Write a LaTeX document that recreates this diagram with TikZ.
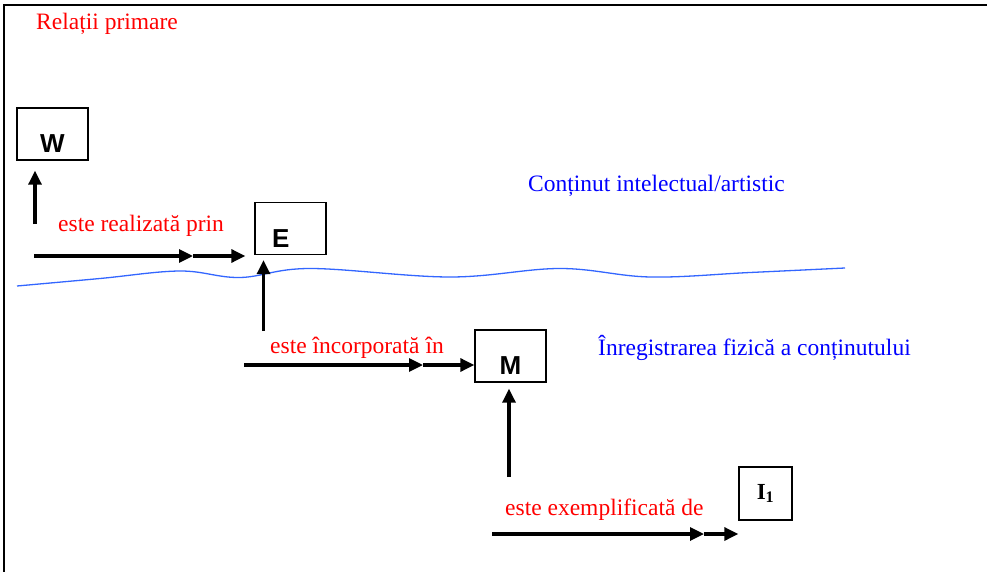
\documentclass[tikz,border=0pt]{standalone}
\usepackage{fontspec}
\setmainfont{Liberation Serif}
\setsansfont{Liberation Sans}
\usepackage{tikz}
\usetikzlibrary{arrows.meta}
\definecolor{waveblue}{RGB}{51,102,255}
\tikzstyle{entity} = [rectangle, draw, line width=1.4pt, inner sep=0pt,
    minimum width=71pt, minimum height=52pt]
\tikzstyle{letter} = [font=\fontsize{26}{30}\sffamily\bfseries,
    text height=37pt, text depth=0pt]
\tikzstyle{line} = [draw, line width=3.2pt, -{Triangle[length=14pt,width=13pt]}]
\tikzstyle{rel} = [text=red, anchor=west, inner sep=0pt, font=\fontsize{23.5}{27}\selectfont]
\tikzstyle{layer} = [text=blue, anchor=west, inner sep=0pt, font=\fontsize{23.5}{27}\selectfont]

\begin{document}
\begin{tikzpicture}[x=1pt, y=-1pt]
    \useasboundingbox (0,0) rectangle (987,572);
    % Frame
    \draw[line width=1.5pt] (4,572) -- (4,5) -- (987,5);

    % Place nodes
    \node [rel] (title) at (36,24) {Relații primare};
    \node [entity, letter] (W) at (52.5,134) {W};
    \node [entity, letter, text width=37pt, align=left] (E) at (290.5,228.5) {E};
    \node [entity, letter] (M) at (510.5,356) {M};
    \node [entity, minimum width=53pt, minimum height=53pt,
        font=\fontsize{23}{26}\selectfont\bfseries] (I1) at (765.5,493.5) {I\textsubscript{1}};

    \node [rel] (realized) at (58,225.5) {este realizată prin};
    \node [rel] (embodied) at (270,347.5) {este încorporată în};
    \node [rel] (exemplified) at (505,509.5) {este exemplificată de};
    \node [layer] (content) at (528,185.5) {Conținut intelectual/artistic};
    \node [layer] (carrier) at (598,347.5) {Înregistrarea fizică a conținutului};

    % Boundary between the two layers
    \draw[waveblue, line width=1.3pt] plot[smooth, tension=0.6] coordinates
        {(17,286) (100,278.5) (180,271) (240,277.5) (310,268.5) (450,277)
         (560,268.5) (650,277) (750,272.5) (845,268)};

    % Draw edges
    \coordinate (wtail) at (35,224);
    \coordinate (rtail) at (34,256);
    \coordinate (rmid) at (193,256);
    \coordinate (etail) at (263.5,331);
    \coordinate (itail) at (244,365);
    \coordinate (imid) at (423,365);
    \coordinate (mtail) at (509,477);
    \coordinate (xtail) at (492,534);
    \coordinate (xmid) at (704,534);

    \path [line, shorten >=10pt] (wtail) -- (wtail |- W.south);
    \path [line] (rtail) -- (rmid);
    \path [line, shorten >=9pt] (rmid) -- (rtail -| E.west);
    \path [line, shorten >=5pt] (etail) -- (etail |- E.south);
    \path [line] (itail) -- (imid);
    \path [line] (imid) -- (itail -| M.west);
    \path [line, shorten >=6pt] (mtail) -- (mtail |- M.south);
    \path [line] (xtail) -- (xmid);
    \path [line] (xmid) -- (xtail -| I1.west);
\end{tikzpicture}
\end{document}
